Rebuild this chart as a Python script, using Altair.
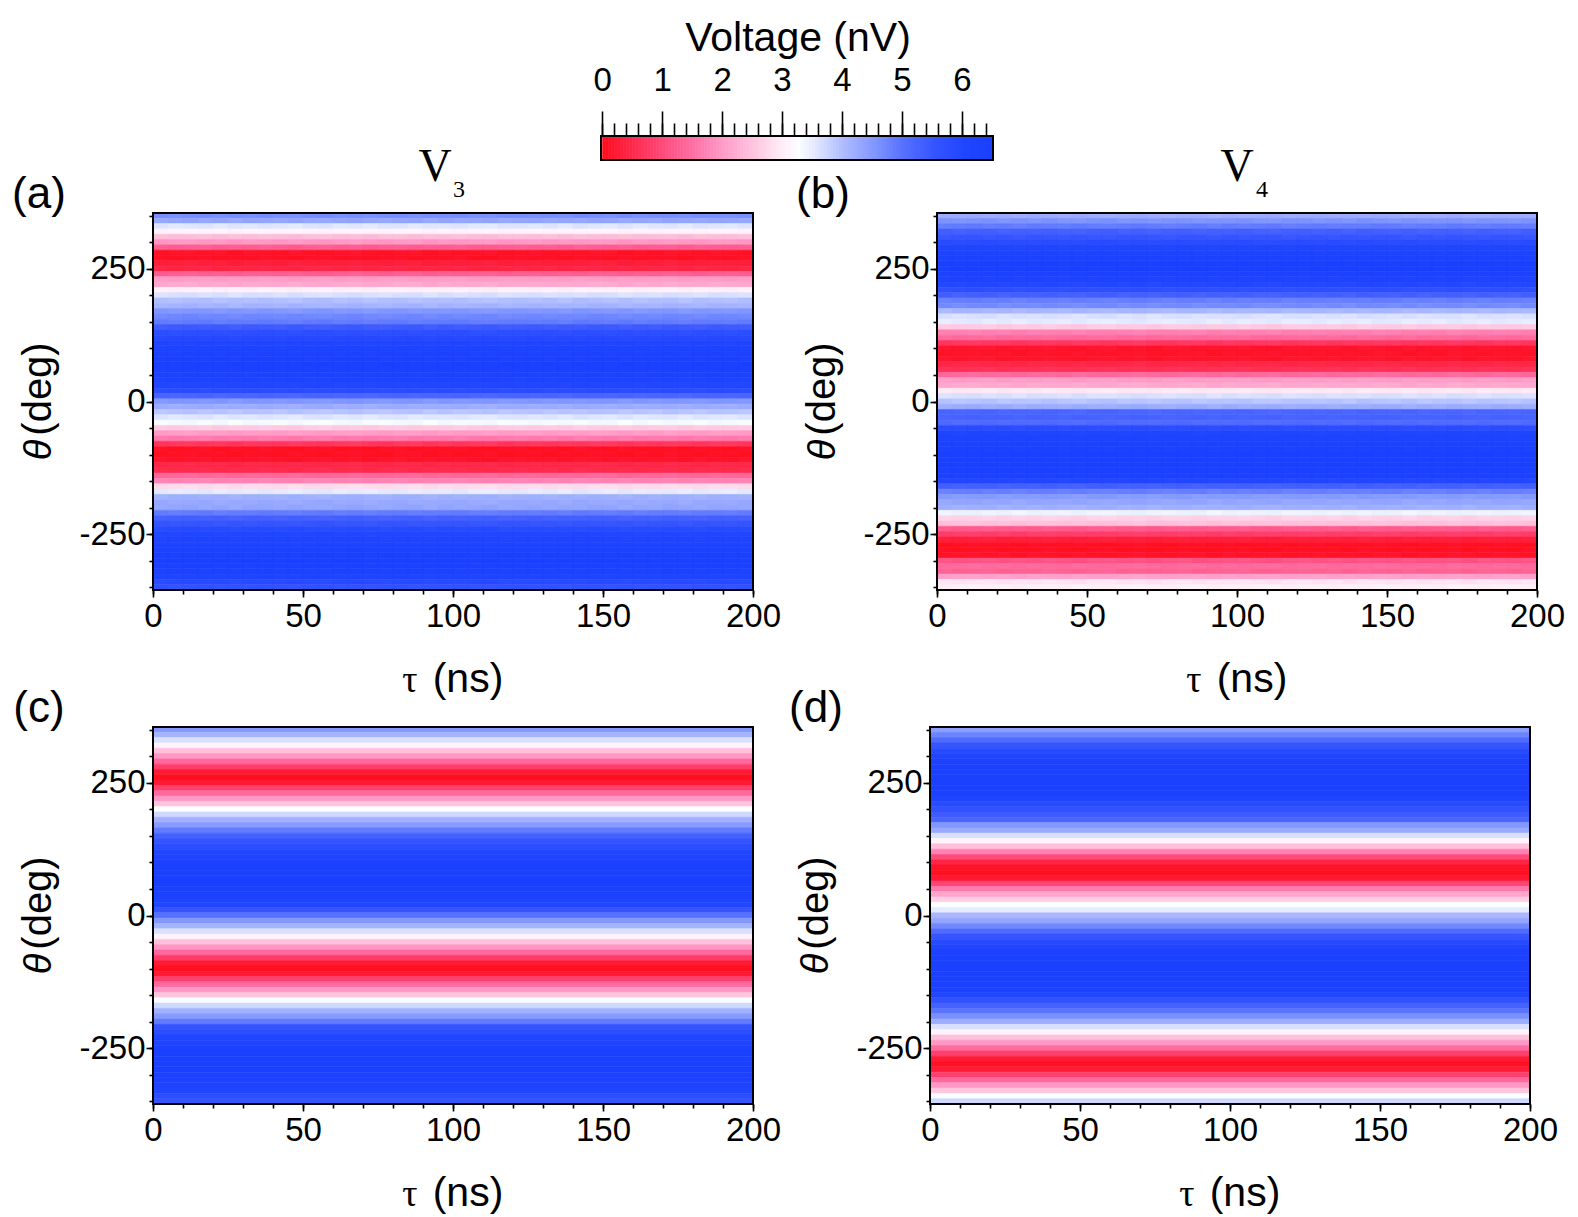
import altair as alt
import pandas as pd

# Row values, from theta = 350 (top) down to theta = -350 (bottom), 10 deg steps
thetas = list(range(350, -351, -10))
v3_meas = [4.6, 4.3, 3.55, 3.05, 2.4, 1.95, 1.25, 0.1, 0.05, 0.3, 0.4, 1.25, 2.0, 2.15, 3.0, 3.6, 3.95, 4.1,
           4.5, 4.7, 4.85, 5.4, 5.7, 5.9, 6.1, 6.2, 6.3, 6.4, 6.45, 6.4, 6.3, 6.2, 6.0, 5.8, 5.2, 4.5,
           4.2, 3.9, 3.55, 3.3, 2.55, 2.0, 1.6, 0.7, 0.05, 0.05, 0.1, 0.45, 0.5, 1.4, 1.7, 2.75, 3.5, 4.15,
           4.25, 4.3, 4.85, 5.3, 5.5, 5.85, 6.0, 6.15, 6.25, 6.35, 6.4, 6.45, 6.4, 6.3, 6.1, 5.85, 5.6]
v4_meas = [4.2, 4.55, 4.85, 5.3, 5.5, 5.8, 6.05, 6.2, 6.35, 6.45, 6.45, 6.35, 6.2, 5.95, 5.7, 5.3, 4.8, 4.65,
           4.05, 3.6, 3.5, 2.55, 1.7, 1.4, 0.7, 0.12, 0.1, 0.12, 0.45, 0.6, 1.4, 2.0, 2.15, 2.9, 3.6, 3.9,
           4.2, 5.2, 5.25, 5.1, 5.8, 6.05, 6.2, 6.35, 6.4, 6.45, 6.45, 6.45, 6.4, 6.35, 6.0, 5.3, 4.8, 4.45,
           4.3, 4.15, 3.4, 2.65, 2.45, 1.2, 0.8, 0.3, 0.05, 0.05, 0.1, 1.1, 1.4, 1.3, 2.05, 2.85, 3.0]
v3_sim = [4.5, 4.1, 3.6, 3.05, 2.45, 1.95, 1.4, 0.8, 0.2, 0.03, 0.2, 0.85, 1.4, 1.95, 2.5, 3.25, 3.7, 4.15,
          4.45, 4.85, 5.3, 5.55, 5.75, 6.0, 6.15, 6.3, 6.4, 6.45, 6.5, 6.5, 6.45, 6.35, 6.2, 6.0, 5.5, 5.0,
          4.5, 4.1, 3.6, 3.05, 2.45, 1.95, 1.4, 0.8, 0.2, 0.03, 0.2, 0.85, 1.4, 1.95, 2.5, 3.25, 3.7, 4.15,
          4.45, 4.85, 5.55, 5.75, 6.0, 6.15, 6.3, 6.4, 6.45, 6.5, 6.5, 6.45, 6.35, 6.2, 6.0, 5.75, 5.5]
v4_sim = [4.4, 4.75, 5.1, 5.5, 5.85, 6.1, 6.3, 6.45, 6.45, 6.45, 6.45, 6.45, 6.3, 6.1, 5.85, 5.6, 5.4, 5.2,
          4.5, 4.25, 3.6, 3.1, 2.45, 1.7, 1.0, 0.4, 0.1, 0.03, 0.2, 0.9, 1.6, 2.1, 2.6, 3.25, 3.5, 4.05,
          4.3, 4.7, 5.1, 5.5, 5.85, 6.1, 6.3, 6.45, 6.45, 6.45, 6.45, 6.45, 6.45, 6.3, 6.0, 5.6, 5.25, 4.95,
          4.6, 4.2, 3.6, 3.05, 2.45, 1.95, 1.45, 0.85, 0.25, 0.03, 0.25, 0.85, 1.4, 1.95, 2.5, 3.25, 3.7]

# Small hand-read variations along tau for the measured panels (two alternating row patterns)
ripple_1 = [0.03, -0.02, 0.01, 0.04, -0.03, 0.02, -0.01, 0.04, 0.0, -0.04, 0.03, 0.05, -0.02, 0.01, -0.04, 0.02,
            0.03, -0.03, 0.01, 0.0, 0.04, -0.02, -0.04, 0.02, 0.03, -0.01, 0.03, -0.03, 0.05, 0.01, -0.02, 0.04,
            -0.03, 0.01, 0.02, -0.04, 0.03, 0.0, -0.02, 0.03]
ripple_2 = [-0.03, 0.02, 0.04, -0.01, 0.03, -0.04, 0.03, 0.01, -0.02, 0.04, -0.01, -0.03, 0.02, 0.05, 0.0, -0.03,
            0.02, 0.04, -0.04, 0.03, -0.02, 0.01, 0.04, -0.03, 0.0, 0.03, -0.02, 0.02, -0.01, 0.04, 0.03, -0.04,
            0.02, -0.02, 0.04, 0.01, -0.03, 0.03, 0.01, -0.02]

tau_edges = list(range(0, 201, 5))
x_major = [0, 50, 100, 150, 200]
x_minor = list(range(0, 201, 10))
y_major = [-250, 0, 250]
y_minor = list(range(-350, 351, 50))
bar_major = [0, 1, 2, 3, 4, 5, 6]
bar_minor = [i / 5 for i in range(0, 33)]
bar_levels = [i / 20 for i in range(0, 130)]

color_stops = [0, 0.5, 1, 1.5, 2, 2.5, 3, 3.25, 3.5, 4, 4.5, 5, 5.5, 6, 6.5]
color_range = ["#ff0f1e", "#ff2a4c", "#ff4a7c", "#ff70a4", "#ff9cc8", "#ffc4de", "#fff0f8", "#ffffff",
               "#e6ebff", "#aebbff", "#8298ff", "#5670ff", "#3655ff", "#2146ff", "#1a40ff"]
color_scale = alt.Scale(domain=color_stops, range=color_range, clamp=True)

SANS = "Liberation Sans"
SERIF = "Liberation Serif"
PW, PH = 600, 377
XDOM, YDOM = [0, 200], [-355, 355]


def text_mark(txt, x, y, size, font=SANS, style="normal", angle=0, align="center"):
    kw = {"angle": angle} if angle else {}
    return alt.Chart(pd.DataFrame({"t": [txt]})).mark_text(
        font=font, fontSize=size, fontStyle=style, align=align, baseline="alphabetic", color="black", **kw
    ).encode(x=alt.value(x), y=alt.value(y), text="t:N")


def panel(rows, edges, ripple, tag, title=None, yoff=0):
    recs = []
    for r, (th, val) in enumerate(zip(thetas, rows)):
        for c in range(len(edges) - 1):
            d = ripple[r % 2][c] if ripple else 0
            recs.append({"x0": edges[c], "x1": edges[c + 1], "y0": th - 5, "y1": th + 5, "v": val + d})
    xs = alt.Scale(domain=XDOM, nice=False, zero=False)
    ys = alt.Scale(domain=YDOM, range=[PH + yoff, yoff], nice=False, zero=False)
    heat = alt.Chart(pd.DataFrame(recs)).mark_rect(strokeWidth=0.6).encode(
        x=alt.X("x0:Q", scale=xs, axis=alt.Axis(values=x_major, orient="bottom", title=None, grid=False, domain=False,
                                                tickSize=7, tickWidth=1.6, tickColor="black", labelFontSize=33,
                                                labelFont=SANS, labelPadding=3, labelColor="black", format="d",
                                                labelFlush=False, labelOverlap=False)),
        x2="x1:Q",
        y=alt.Y("y0:Q", scale=ys, axis=alt.Axis(values=y_major, orient="left", title=None, grid=False, domain=False,
                                                tickSize=7, tickWidth=1.6, tickColor="black", labelFontSize=33,
                                                labelFont=SANS, labelPadding=1, labelColor="black",
                                                labelExpr="'' + datum.value", labelFlush=False, labelOverlap=False)),
        y2="y1:Q",
        fill=alt.Fill("v:Q", scale=color_scale, legend=None),
        stroke=alt.Stroke("v:Q", scale=color_scale, legend=None),
    )
    frame_df = pd.DataFrame({"x0": [XDOM[0]], "x1": [XDOM[1]], "y0": [YDOM[0]], "y1": [YDOM[1]]})
    frame = alt.Chart(frame_df).mark_rect(filled=False, stroke="black", strokeWidth=2).encode(
        x=alt.X("x0:Q", scale=xs, axis=alt.Axis(values=x_minor, orient="bottom", title=None, grid=False, domain=False,
                                                labels=False, tickSize=4, tickWidth=1.6, tickColor="black")),
        x2="x1:Q",
        y=alt.Y("y0:Q", scale=ys, axis=alt.Axis(values=y_minor, orient="left", title=None, grid=False, domain=False,
                                                labels=False, tickSize=4, tickWidth=1.6, tickColor="black")),
        y2="y1:Q",
    )
    layers = [
        heat, frame,
        text_mark(tag, -114, yoff - 5, 44),
        text_mark("τ", 257, yoff + PH + 102, 38, font=SERIF),
        text_mark("(ns)", 315, yoff + PH + 102, 41),
        text_mark("θ", -102, yoff + 237, 38, style="italic", angle=270),
        text_mark("(deg)", -102, yoff + 176, 40, angle=270),
    ]
    if title:
        layers.append(text_mark(title[0], title[2], -32, 46, font=SERIF))
        layers.append(text_mark(title[1], title[3], -16, 24, font=SERIF))
    return alt.layer(*layers).resolve_axis(x="independent", y="independent").properties(width=PW, height=PH + yoff)


# Colour bar: drawn in a wide chart whose scale occupies the right-hand part, so that it sits above the panels
bar_x = alt.Scale(domain=[-0.02, 6.52], range=[448, 840], nice=False, zero=False)
bar_y = alt.Scale(domain=[0, 1], nice=False, zero=False)
bar_df = pd.DataFrame({"a": bar_levels, "b": [v + 0.06 for v in bar_levels], "v": bar_levels, "c": 0, "d": 1})
bar = alt.Chart(bar_df).mark_rect().encode(
    x=alt.X("a:Q", scale=bar_x, axis=alt.Axis(values=bar_major, orient="top", title=None, grid=False, domain=False,
                                              tickSize=25, tickWidth=1.6, tickColor="black", labelFontSize=33,
                                              labelFont=SANS, labelPadding=14, labelColor="black", format="d",
                                              labelFlush=False, labelOverlap=False)),
    x2="b:Q",
    y=alt.Y("c:Q", scale=bar_y, axis=None),
    y2="d:Q",
    fill=alt.Fill("v:Q", scale=color_scale, legend=None),
)
bar_frame = alt.Chart(pd.DataFrame({"a": [-0.02], "b": [6.52], "c": [0], "d": [1]})).mark_rect(
    filled=False, stroke="black", strokeWidth=2
).encode(
    x=alt.X("a:Q", scale=bar_x, axis=alt.Axis(values=bar_minor, orient="top", title=None, grid=False, domain=False,
                                              labels=False, tickSize=13, tickWidth=1.6, tickColor="black")),
    x2="b:Q",
    y=alt.Y("c:Q", scale=bar_y, axis=None),
    y2="d:Q",
)
colorbar = alt.layer(
    bar, bar_frame,
    text_mark("Voltage (nV)", 645, -85, 41),
).resolve_axis(x="independent").properties(width=840, height=24)

a = panel(v3_meas, tau_edges, (ripple_1, ripple_2), "(a)", ("V", "3", 282, 306))
b = panel(v4_meas, tau_edges, (ripple_2, ripple_1), "(b)", ("V", "4", 300, 325))
c = panel(v3_sim, XDOM, None, "(c)", yoff=461)
d = panel(v4_sim, XDOM, None, "(d)", yoff=461)

row1 = alt.hconcat(a, b, spacing=184, bounds="flush")
row2 = alt.hconcat(c, d, spacing=177, bounds="flush")
chart = alt.vconcat(colorbar, row1, row2, spacing=53, bounds="flush").properties(
    padding={"left": 4, "top": 10, "right": 0, "bottom": 0}
).configure_view(stroke=None)

chart.save("out.html", embed_options={"renderer": "svg", "actions": False})
